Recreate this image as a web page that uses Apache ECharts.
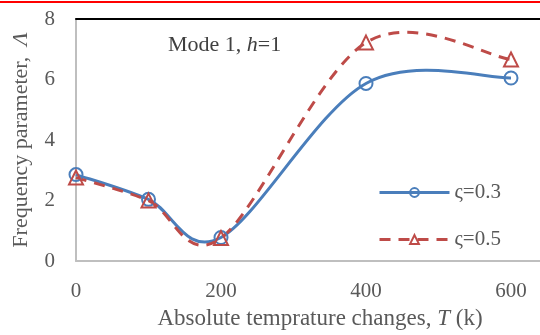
<!DOCTYPE html>
<html>
<head>
<meta charset="utf-8">
<script src="https://cdn.jsdelivr.net/npm/echarts@6/dist/echarts.min.js"></script>
<style>
  html, body { margin: 0; padding: 0; background: #fff; }
  #chart { width: 540px; height: 335px; }
</style>
</head>
<body>
<div id="chart"></div>
<script>
const temps = [0, 100, 200, 400, 600];
const zeta03 = [2.86, 2.04, 0.78, 5.87, 6.05];
const zeta05 = [2.76, 2.0, 0.76, 7.22, 6.66];
const xTicks = [0, 200, 400, 600];
const yTicks = [0, 2, 4, 6, 8];

const font = '"Liberation Serif", "Times New Roman", serif';
const textColor = '#595959';
const blue = '#4a7ebb';
const red = '#be4b48';

// spreadsheet-style smoothed curve (Catmull-Rom through the data points, pixel space)
function smoothCurve(values, color, dash) {
  return function (params, api) {
    if (params.dataIndex !== 0) return null;
    const p = temps.map((t, i) => api.coord([t, values[i]]));
    let d = 'M' + p[0][0] + ',' + p[0][1];
    for (let i = 0; i < p.length - 1; i++) {
      const a = p[i - 1] || p[i];
      const b = p[i];
      const c = p[i + 1];
      const e = p[i + 2] || p[i + 1];
      const c1x = b[0] + (c[0] - a[0]) / 6, c1y = b[1] + (c[1] - a[1]) / 6;
      const c2x = c[0] - (e[0] - b[0]) / 6, c2y = c[1] - (e[1] - b[1]) / 6;
      d += ' C' + c1x + ',' + c1y + ' ' + c2x + ',' + c2y + ' ' + c[0] + ',' + c[1];
    }
    return {
      type: 'path',
      shape: { pathData: d },
      style: { fill: 'none', stroke: color, lineWidth: 3, lineDash: dash }
    };
  };
}

const chart = echarts.init(document.getElementById('chart'));
chart.setOption({
  animation: false,
  textStyle: { fontFamily: font },
  grid: { left: 76, right: 0, top: 19, bottom: 70 },
  title: {
    text: 'Mode 1, {i|h}=1',
    left: 163, top: 29,
    textStyle: {
      fontFamily: font, fontSize: 22, fontWeight: 'normal', color: '#404040',
      rich: { i: { fontFamily: font, fontSize: 22, fontStyle: 'italic', color: '#404040' } }
    }
  },
  legend: {
    orient: 'vertical',
    left: 373, top: 177,
    itemWidth: 70, itemHeight: 11,
    itemGap: 26,
    textStyle: { fontFamily: font, fontSize: 21, color: textColor },
    data: [
      { name: 'ς=0.3', lineStyle: { width: 3, color: blue, type: 'solid', opacity: 1 } },
      { name: 'ς=0.5', lineStyle: { width: 3, color: red, type: [11, 8], opacity: 1 } }
    ]
  },
  xAxis: [{
    type: 'value',
    min: 0, max: 640, interval: 200,
    name: 'Absolute temprature changes, {i|T} (k)',
    nameLocation: 'middle', nameGap: 44,
    nameTextStyle: {
      fontFamily: font, fontSize: 23, color: textColor, padding: [0, 0, 0, 24],
      rich: { i: { fontFamily: font, fontSize: 23, fontStyle: 'italic', color: textColor } }
    },
    axisLine: { lineStyle: { color: '#bfbfbf', width: 2 } },
    axisTick: { show: false },
    splitLine: { show: false },
    axisLabel: {
      showMaxLabel: false, margin: 20, fontSize: 21, color: textColor, fontFamily: font,
      formatter: v => xTicks.includes(v) ? String(v) : ''
    }
  }, {
    type: 'value', position: 'top', min: 0, max: 640,
    axisLine: { lineStyle: { color: '#000', width: 2 } },
    axisTick: { show: false }, axisLabel: { show: false }, splitLine: { show: false }
  }],
  yAxis: {
    type: 'value',
    min: 0, max: 8, interval: 2,
    name: 'Frequency parameter,  {i|Λ}',
    nameLocation: 'middle', nameGap: 44,
    nameTextStyle: {
      fontFamily: font, fontSize: 22, color: textColor,
      rich: { i: { fontFamily: font, fontSize: 22, fontStyle: 'italic', color: textColor } }
    },
    axisLine: { show: true, lineStyle: { color: '#bfbfbf', width: 2 } },
    axisTick: { show: false },
    splitLine: { show: false },
    axisLabel: {
      margin: 21, fontSize: 21, color: textColor, fontFamily: font,
      formatter: v => yTicks.includes(v) ? String(v) : ''
    }
  },
  graphic: [{
    type: 'rect', left: 0, top: 1,
    shape: { width: 540, height: 2 },
    style: { fill: '#ff0000' }
  }],
  series: [{
    name: 'curve03',
    type: 'custom',
    renderItem: smoothCurve(zeta03, blue, null),
    data: temps.map((t, i) => [t, zeta03[i]]),
    encode: { x: 0, y: 1 },
    silent: true,
    z: 2
  }, {
    name: 'curve05',
    type: 'custom',
    renderItem: smoothCurve(zeta05, red, [11, 8]),
    data: temps.map((t, i) => [t, zeta05[i]]),
    encode: { x: 0, y: 1 },
    silent: true,
    z: 3
  }, {
    name: 'ς=0.3',
    type: 'line',
    data: temps.map((t, i) => [t, zeta03[i]]),
    symbol: 'circle', symbolSize: 13,
    lineStyle: { color: blue, width: 0, opacity: 0 },
    itemStyle: { color: 'rgba(255,255,255,0)', borderColor: blue, borderWidth: 2 },
    z: 4
  }, {
    name: 'ς=0.5',
    type: 'line',
    data: temps.map((t, i) => [t, zeta05[i]]),
    symbol: 'triangle', symbolSize: 14,
    lineStyle: { color: red, width: 0, opacity: 0 },
    itemStyle: { color: 'rgba(255,255,255,0)', borderColor: red, borderWidth: 2 },
    z: 5
  }]
});
</script>
</body>
</html>
